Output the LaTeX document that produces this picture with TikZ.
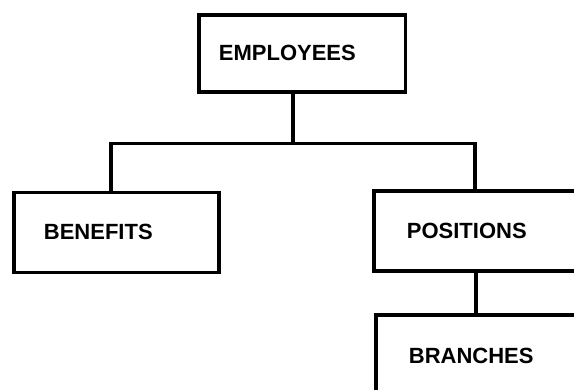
\documentclass[tikz,border=0pt]{standalone}
\usepackage{fontspec}
\setmainfont{Liberation Sans}
\begin{document}
\begin{tikzpicture}[x=1pt,y=-1pt,
  box/.style={draw=black, line width=3.8pt, rectangle, anchor=north west,
    font=\fontsize{22}{24}\selectfont\bfseries, align=left, inner ysep=0pt},
  conn/.style={draw=black, line width=3.8pt, line join=miter}]
\clip (0,0) rectangle (574,389);
\fill[white] (0,0) rectangle (574,389);
\node[box, minimum width=206.5pt, minimum height=77pt, inner xsep=20pt, text width=166.5pt] (emp) at (197,13) {EMPLOYEES};
\node[box, minimum width=205pt, minimum height=80pt, inner xsep=30pt, text width=145pt] (ben) at (12,190.5) {BENEFITS};
\node[box, minimum width=260pt, minimum height=80pt, inner xsep=33pt, text width=194pt] (pos) at (372,189) {POSITIONS};
\node[box, minimum width=260pt, minimum height=82pt, inner xsep=33pt, text width=194pt] (bra) at (374,313) {BRANCHES};
\coordinate (busL) at (111,143.5);
\coordinate (busR) at (475,143.5);
\draw[conn] ([xshift=-9pt]emp.south) -- ([xshift=-9pt]emp.south |- busL);
\draw[conn] (busL |- ben.north) -- (busL) -- (busR) -- (busR |- pos.north);
\draw[conn] ([xshift=104pt]pos.south west) -- ([xshift=104pt]pos.south west |- bra.north);
\end{tikzpicture}
\end{document}
